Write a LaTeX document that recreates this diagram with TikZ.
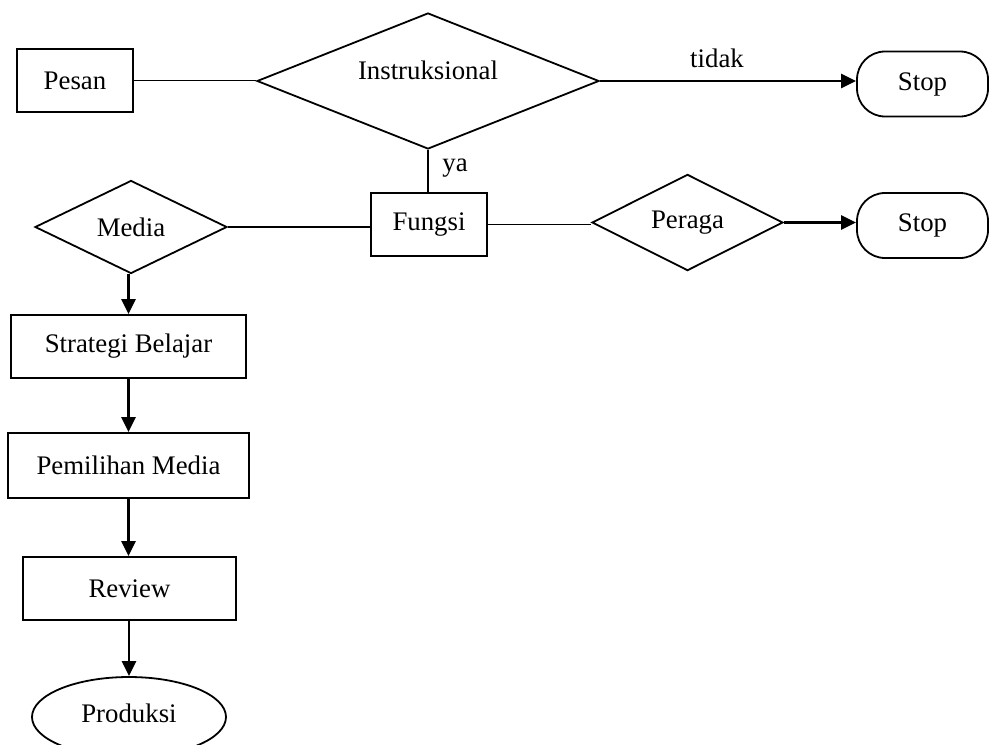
\documentclass[tikz,border=0pt]{standalone}
\usepackage{fontspec}
\setmainfont{Liberation Serif}
\usetikzlibrary{shapes.geometric,arrows.meta}
\begin{document}
\begin{tikzpicture}[x=0.5pt,y=-0.5pt,
  every node/.style={font=\fontsize{13.4}{16}\selectfont, inner sep=0pt, line width=0.9pt},
  boxnode/.style={draw, rectangle},
  decide/.style={draw, diamond},
  stopnode/.style={draw, rectangle, rounded corners=14pt, minimum width=65.5pt, minimum height=32.5pt},
  plainline/.style={line width=0.9pt},
  arrowline/.style={line width=1.2pt, -{Triangle[length=7.5pt,width=7pt]}},
  lbl/.style={font=\fontsize{13.4}{16}\selectfont}
]
\useasboundingbox (0,0) rectangle (989,744);
\node[boxnode, minimum width=58pt, minimum height=31.5pt] (pesan) at (75,80.5) {Pesan};
\node[decide, minimum width=171pt, minimum height=68pt, label={[yshift=5.5pt]center:Instruksional}] (instr) at (428,81) {};
\node[stopnode] (stopa) at (922.5,84) {Stop};
\node[boxnode, minimum width=58pt, minimum height=31.5pt] (fungsi) at (429,224.5) {Fungsi};
\node[decide, minimum width=96pt, minimum height=46.5pt] (media) at (131,227) {Media};
\node[decide, minimum width=95.5pt, minimum height=46.5pt] (peraga) at (687.5,222.5) {Peraga};
\node[stopnode] (stopb) at (922.5,225.5) {Stop};
\node[boxnode, minimum width=117.5pt, minimum height=31.5pt] (strategi) at (128.5,346.5) {Strategi Belajar};
\node[boxnode, minimum width=120.5pt, minimum height=32.5pt] (pemilihan) at (128.5,465.5) {Pemilihan Media};
\node[boxnode, minimum width=106.5pt, minimum height=31.5pt] (review) at (129.5,588.5) {Review};
\node[draw, ellipse, minimum width=97pt, minimum height=40pt, label={[yshift=2pt]center:Produksi}] (produksi) at (129,717) {};

\draw[plainline] (pesan.east) -- (pesan.east -| instr.west);
\draw[arrowline] (instr.east) -- (instr.east -| stopa.west);
\node[lbl] (tidak) at (717,58) {tidak};
\draw[plainline] (instr.south) -- (instr.south |- fungsi.north);
\node[lbl] (ya) at (455,168) {ya};
\draw[plainline] (media.east) -- (media.east -| fungsi.west);
\draw[plainline] (fungsi.east) -- (fungsi.east -| peraga.west);
\draw[arrowline] (peraga.east) -- (peraga.east -| stopb.west);
\draw[arrowline] (media.south -| strategi.north) -- (strategi.north);
\draw[arrowline] (strategi.south) -- (pemilihan.north);
\draw[arrowline] (pemilihan.south) -- (pemilihan.south |- review.north);
\draw[arrowline] (review.south -| produksi.north) -- (produksi.north);
\end{tikzpicture}
\end{document}
